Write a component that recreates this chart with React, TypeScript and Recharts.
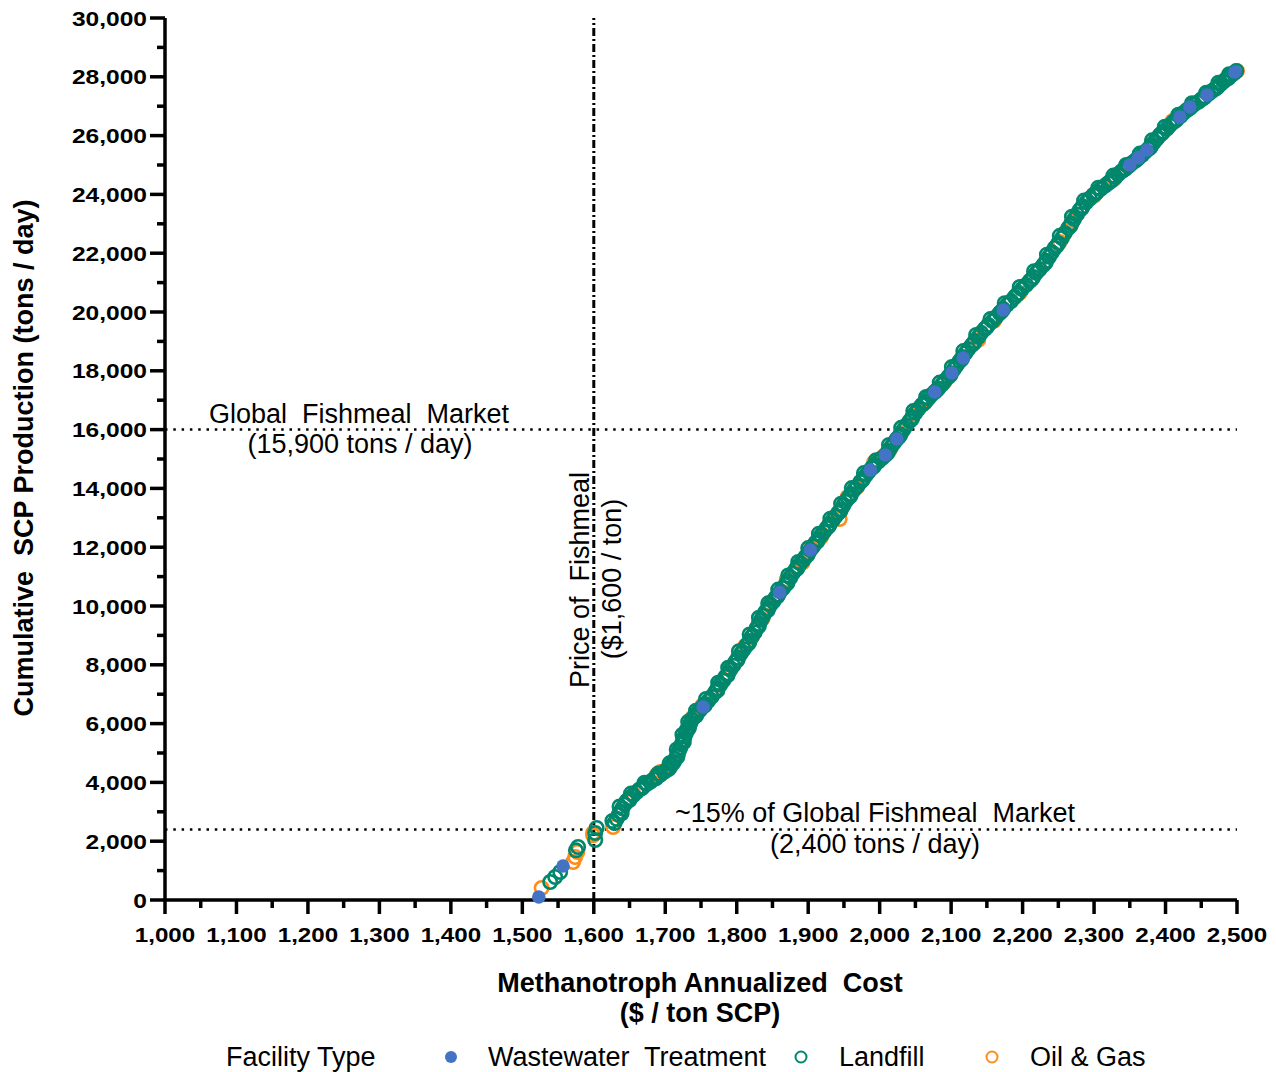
import React from "react";
import {
  ScatterChart,
  Scatter,
  XAxis,
  YAxis,
  ReferenceLine,
} from "recharts";

// [cost $/ton SCP, cumulative tons/day]
const wastewater: [number, number][] = [
  [1523, 102], [1557, 1156], [1753, 6564], [1860, 10460], [1903, 11905],
  [1987, 14626], [2008, 15136], [2024, 15680], [2077, 17279], [2101, 17925],
  [2117, 18435], [2173, 20068], [2350, 25000], [2362, 25250], [2374, 25510],
  [2420, 26633], [2434, 26973], [2458, 27381], [2497, 28163],
];

const landfill: [number, number][] = [
  [1539, 612], [1546, 782], [1553, 952], [1575, 1690], [1578, 1803],
  [1602, 2041], [1602, 2279], [1604, 2449],
  [1629, 2620], [1632, 2760], [1635, 2900], [1637, 2993], [1640, 3120],
  [1643, 3250], [1646, 3367], [1650, 3470], [1655, 3560], [1660, 3673],
  [1664, 3760], [1669, 3850], [1674, 3946], [1679, 4020], [1684, 4110],
  [1688, 4184], [1693, 4260], [1698, 4350], [1702, 4422], [1706, 4520],
  [1709, 4610], [1712, 4694], [1714, 4800], [1717, 4950], [1719, 5068],
  [1721, 5180], [1723, 5300], [1725, 5442], [1727, 5560], [1729, 5680],
  [1730, 5782], [1733, 5900], [1735, 6010], [1737, 6123], [1740, 6220],
  [1743, 6310], [1746, 6395], [1749, 6480], [1752, 6570], [1756, 6667],
  [1760, 6770], [1765, 6920], [1770, 7075], [1773, 7200], [1777, 7330],
  [1781, 7460], [1784, 7585], [1788, 7710], [1791, 7840], [1795, 7970],
  [1798, 8095], [1802, 8240], [1806, 8390], [1810, 8530], [1814, 8674],
  [1818, 8810], [1821, 8960], [1825, 9100], [1828, 9252], [1831, 9390],
  [1834, 9530], [1837, 9660], [1840, 9796], [1844, 9910], [1847, 10030],
  [1851, 10150], [1854, 10272], [1858, 10390], [1861, 10500], [1865, 10610],
  [1868, 10714], [1871, 10840], [1875, 10970], [1878, 11100], [1882, 11225],
  [1885, 11340], [1889, 11450], [1893, 11560], [1896, 11667], [1900, 11790],
  [1903, 11910], [1907, 12030], [1910, 12143], [1914, 12270], [1918, 12400],
  [1922, 12520], [1926, 12653], [1930, 12780], [1934, 12910], [1938, 13040],
  [1942, 13163], [1946, 13290], [1949, 13420], [1952, 13550], [1956, 13674],
  [1960, 13810], [1964, 13950], [1969, 14080], [1973, 14218], [1977, 14340],
  [1981, 14460], [1985, 14580], [1989, 14694], [1993, 14800], [1998, 14910],
  [2003, 15020], [2008, 15136], [2012, 15270], [2016, 15410], [2020, 15550],
  [2024, 15680], [2029, 15830], [2033, 15990], [2037, 16140], [2042, 16293],
  [2046, 16430], [2050, 16570], [2054, 16700], [2059, 16837], [2064, 16950],
  [2068, 17060], [2072, 17170], [2077, 17279], [2082, 17400], [2087, 17530],
  [2091, 17660], [2096, 17789], [2100, 17920], [2104, 18060], [2108, 18200],
  [2112, 18334], [2116, 18470], [2120, 18600], [2124, 18740], [2129, 18878],
  [2133, 19010], [2138, 19150], [2142, 19290], [2147, 19422], [2152, 19560],
  [2158, 19690], [2163, 19830], [2168, 19966], [2173, 20100], [2178, 20240],
  [2184, 20370], [2189, 20510], [2194, 20650], [2199, 20780], [2205, 20920],
  [2210, 21055], [2215, 21190], [2219, 21330], [2224, 21460], [2229, 21599],
  [2233, 21740], [2237, 21880], [2241, 22030], [2245, 22177], [2250, 22340],
  [2255, 22510], [2259, 22680], [2264, 22857], [2268, 23010], [2272, 23160],
  [2276, 23320], [2280, 23470], [2284, 23600], [2289, 23730], [2294, 23860],
  [2299, 23980], [2304, 24080], [2309, 24180], [2315, 24290], [2320, 24388],
  [2325, 24490], [2330, 24590], [2334, 24690], [2339, 24796], [2344, 24880],
  [2348, 24960], [2352, 25050], [2357, 25136], [2362, 25240], [2367, 25340],
  [2371, 25440], [2376, 25545], [2380, 25660], [2384, 25780], [2388, 25900],
  [2392, 26021], [2397, 26130], [2402, 26240], [2406, 26350], [2411, 26463],
  [2416, 26560], [2421, 26660], [2425, 26770], [2430, 26871], [2435, 26960],
  [2440, 27060], [2446, 27150], [2451, 27245], [2455, 27330], [2460, 27420],
  [2464, 27500], [2469, 27585], [2473, 27670], [2477, 27750], [2481, 27840],
  [2485, 27925], [2489, 27990], [2492, 28060], [2496, 28130], [2499, 28198],
  // facilities sitting on the edges of the dense band
  [1626, 2690], [1639, 2950], [1636, 3180], [1650, 3400], [1652, 3620],
  [1667, 3800], [1671, 3990], [1687, 4140], [1690, 4300], [1705, 4460],
  [1706, 4650], [1717, 4870], [1716, 5120], [1726, 5370], [1724, 5620],
  [1733, 5840], [1732, 6060], [1743, 6260], [1743, 6440], [1755, 6610],
  [1757, 6840], [1773, 7130], [1774, 7390], [1787, 7640], [1788, 7900],
  [1801, 8160], [1803, 8460], [1817, 8740], [1818, 9030], [1831, 9320],
  [1831, 9600], [1843, 9850], [1844, 10090], [1857, 10330], [1858, 10560],
  [1871, 10780], [1872, 11040], [1885, 11280], [1886, 11500], [1899, 11730],
  [1900, 11970], [1913, 12200], [1915, 12460], [1929, 12720], [1931, 12970],
  [1945, 13230], [1946, 13480], [1959, 13740], [1961, 14010], [1976, 14280],
  [1978, 14520], [1992, 14750], [1995, 14960], [2011, 15200], [2013, 15480],
  [2027, 15750], [2030, 16060], [2045, 16360], [2047, 16630], [2062, 16890],
  [2065, 17110], [2080, 17340], [2084, 17600], [2099, 17850], [2101, 18130],
  [2115, 18400], [2117, 18670], [2132, 18940], [2135, 19220], [2150, 19490],
  [2155, 19760], [2171, 20030], [2175, 20300], [2192, 20580], [2196, 20850],
  [2213, 21120], [2216, 21390], [2232, 21670], [2234, 21950], [2248, 22260],
  [2252, 22590], [2267, 22930], [2269, 23240], [2283, 23530], [2286, 23790],
  [2302, 24030], [2306, 24230], [2323, 24440], [2327, 24640], [2342, 24840],
  [2345, 25000], [2360, 25190], [2364, 25390], [2379, 25600], [2381, 25840],
  [2395, 26080], [2399, 26300], [2414, 26510], [2418, 26710], [2433, 26920],
  [2437, 27100], [2454, 27290], [2457, 27460], [2472, 27630], [2474, 27800],
  [2488, 27960], [2489, 28090],
];

const oilGas: [number, number][] = [
  [1527, 408], [1571, 1293], [1574, 1463], [1577, 1633], [1599, 2200],
  [1599, 2279], [1627, 2483], [1656, 3580], [1688, 4252], [1693, 4354],
  [1707, 4524], [1718, 4980], [1738, 6200], [1752, 6620], [1776, 7320],
  [1790, 7900], [1812, 8640], [1822, 8980], [1836, 9560], [1846, 10100],
  [1856, 10330], [1870, 10900], [1892, 11480], [1905, 11980], [1918, 12340],
  [1930, 12800], [1944, 12960], [1955, 13700], [1968, 14040], [1992, 14880],
  [2004, 15060], [2014, 15300], [2030, 15900], [2048, 16520], [2066, 17000],
  [2090, 17600], [2106, 18150], [2138, 19050], [2160, 19700], [2196, 20650],
  [2222, 21420], [2252, 22380], [2270, 23080], [2300, 23950], [2328, 24520],
  [2350, 25000], [2380, 25700], [2410, 26500], [2440, 27080], [2470, 27600],
  [2500, 28200],
];

const xTicks = [
  1000, 1050, 1100, 1150, 1200, 1250, 1300, 1350, 1400, 1450, 1500, 1550,
  1600, 1650, 1700, 1750, 1800, 1850, 1900, 1950, 2000, 2050, 2100, 2150,
  2200, 2250, 2300, 2350, 2400, 2450, 2500,
];
const yTicks = [
  0, 1000, 2000, 3000, 4000, 5000, 6000, 7000, 8000, 9000, 10000, 11000,
  12000, 13000, 14000, 15000, 16000, 17000, 18000, 19000, 20000, 21000,
  22000, 23000, 24000, 25000, 26000, 27000, 28000, 29000, 30000,
];

const fishmealPrice = 1600;
const globalMarket = 16000;
const fifteenPct = 2400;

const BLUE = "#4472c4";
const TEAL = "#00876c";
const ORANGE = "#ff8c1a";
const FONT = "'Liberation Sans', Arial, Helvetica, sans-serif";

const toPoints = (rows: [number, number][]) =>
  rows.map(([cost, tons]) => ({ cost, tons }));

const XTick = (props: any) => {
  const { x, y, payload } = props;
  const major = payload.value % 100 === 0;
  return (
    <g>
      <line x1={x} x2={x} y1={y} y2={y + (major ? 14 : 8)} stroke="#000" strokeWidth={3.5} />
      {major && (
        <text
          transform={`translate(${x},${y + 42}) scale(1.15,1)`}
          textAnchor="middle"
          fontFamily={FONT}
          fontWeight="bold"
          fontSize={21}
          fill="#000"
        >
          {payload.value.toLocaleString("en-US")}
        </text>
      )}
    </g>
  );
};

const YTick = (props: any) => {
  const { x, y, payload } = props;
  const major = payload.value % 2000 === 0;
  return (
    <g>
      <line x1={x} x2={x - (major ? 15 : 8)} y1={y} y2={y} stroke="#000" strokeWidth={3.5} />
      {major && (
        <text
          transform={`translate(${x - 18},${y + 7.5}) scale(1.17,1)`}
          textAnchor="end"
          fontFamily={FONT}
          fontWeight="bold"
          fontSize={21}
          fill="#000"
        >
          {payload.value.toLocaleString("en-US")}
        </text>
      )}
    </g>
  );
};

const ring = (color: string) => (props: any) =>
  <circle cx={props.cx} cy={props.cy} r={6.7} fill="none" stroke={color} strokeWidth={2.6} />;

const dot = (props: any) => <circle cx={props.cx} cy={props.cy} r={6.8} fill={BLUE} />;

export default function App() {
  const txt = { fontFamily: FONT, fontSize: 27, fill: "#000", style: { whiteSpace: "pre" } } as any;
  return (
    <div style={{ position: "absolute", left: 0, top: 0, width: 1276, height: 1072, background: "#fff" }}>
      <ScatterChart width={1276} height={1072} margin={{ top: 18, right: 39, bottom: 112, left: 65 }}>
        <XAxis
          type="number"
          dataKey="cost"
          domain={[1000, 2500]}
          ticks={xTicks}
          interval={0}
          height={60}
          tickSize={0}
          tickMargin={0}
          tickLine={false}
          tick={<XTick />}
          axisLine={{ stroke: "#000", strokeWidth: 3.5 }}
        />
        <YAxis
          type="number"
          dataKey="tons"
          domain={[0, 30000]}
          ticks={yTicks}
          interval={0}
          width={100}
          tickSize={0}
          tickMargin={0}
          tickLine={false}
          tick={<YTick />}
          axisLine={{ stroke: "#000", strokeWidth: 3.5 }}
        />
        <ReferenceLine x={fishmealPrice} stroke="#000" strokeWidth={3} strokeDasharray="8 3 2 3" />
        <ReferenceLine y={globalMarket} stroke="#000" strokeWidth={2.5} strokeDasharray="2.5 5.8" />
        <ReferenceLine y={fifteenPct} stroke="#000" strokeWidth={2.5} strokeDasharray="2.5 5.8" />
        <Scatter name="Oil & Gas" data={toPoints(oilGas)} shape={ring(ORANGE)} isAnimationActive={false} />
        <Scatter name="Landfill" data={toPoints(landfill)} shape={ring(TEAL)} isAnimationActive={false} />
        <Scatter name="Wastewater Treatment" data={toPoints(wastewater)} shape={dot} isAnimationActive={false} />
      </ScatterChart>

      <svg width={1276} height={1072} style={{ position: "absolute", left: 0, top: 0, pointerEvents: "none" }}>
        <text {...txt} x={359} y={423} textAnchor="middle">Global  Fishmeal  Market</text>
        <text {...txt} x={360} y={453} textAnchor="middle">(15,900 tons / day)</text>
        <text {...txt} x={875} y={822} textAnchor="middle">~15% of Global Fishmeal  Market</text>
        <text {...txt} x={875} y={853} textAnchor="middle">(2,400 tons / day)</text>
        <text {...txt} transform="translate(589,580) rotate(-90)" textAnchor="middle">Price of  Fishmeal</text>
        <text {...txt} transform="translate(621,579) rotate(-90)" textAnchor="middle">($1,600 / ton)</text>

        <text {...txt} fontWeight="bold" transform="translate(33,458) rotate(-90)" textAnchor="middle">
          Cumulative  SCP Production (tons / day)
        </text>
        <text {...txt} fontWeight="bold" x={700} y={992} textAnchor="middle">Methanotroph Annualized  Cost</text>
        <text {...txt} fontWeight="bold" x={700} y={1022} textAnchor="middle">($ / ton SCP)</text>

        <text {...txt} x={226} y={1066}>Facility Type</text>
        <circle cx={451} cy={1057} r={6} fill={BLUE} />
        <text {...txt} x={488} y={1066}>Wastewater  Treatment</text>
        <circle cx={801} cy={1057} r={5.5} fill="none" stroke={TEAL} strokeWidth={2} />
        <text {...txt} x={839} y={1066}>Landfill</text>
        <circle cx={992} cy={1057} r={5.5} fill="none" stroke={ORANGE} strokeWidth={2} />
        <text {...txt} x={1030} y={1066}>Oil &amp; Gas</text>
      </svg>
    </div>
  );
}
